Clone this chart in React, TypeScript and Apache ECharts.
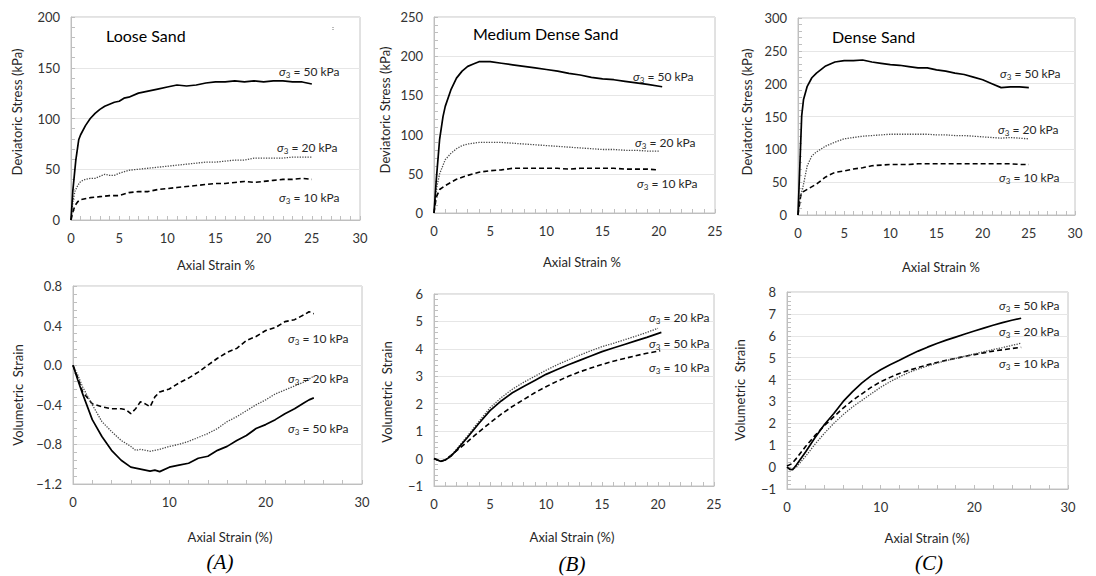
import { useEffect, useRef } from "react";
import * as echarts from "echarts";

// ---------- Data (axial strain %, value) ----------
// Panel A – Loose Sand, deviatoric stress (kPa)
const looseDev50 = [[0,0],[0.2,30],[0.5,59],[0.8,79],[1,84],[1.5,93],[2,100],[2.5,105],[3,109],[3.5,112],[4,114],[4.5,116],[5,117],[5.5,120],[6,121],[7,125],[8,127],[9,129],[10,131],[11,133],[12,132],[13,133],[14,135],[15,136],[16,136],[17,137],[18,136],[19,137],[20,136],[21,137],[22,137],[23,136],[24,136],[25,134]];
const looseDev20 = [[0,0],[0.2,18],[0.4,28],[0.7,34],[1,38],[1.5,40],[2,41],[2.5,41],[3,43],[3.5,45],[4,44],[4.5,44],[5,46],[6,49],[7,50],[8,51],[9,52],[10,53],[11,54],[12,55],[13,56],[14,57],[15,57],[16,58],[17,59],[18,59],[19,61],[20,61],[21,61],[22,61],[23,62],[24,62],[25,62]];
const looseDev10 = [[0,0],[0.2,8],[0.4,14],[0.7,18],[1,20],[2,22],[3,23],[4,24],[5,24],[6,27],[7,28],[8,28],[9,30],[10,31],[11,32],[12,33],[13,34],[14,35],[15,36],[16,36],[17,37],[18,38],[19,37],[20,38],[21,39],[22,40],[23,40],[24,41],[25,40]];

// Panel B – Medium Dense Sand, deviatoric stress (kPa)
const medDev50 = [[0,0],[0.2,42],[0.5,94],[0.8,123],[1,136],[1.5,157],[2,172],[2.5,181],[3,187],[3.5,190],[4,193],[5,193],[6,191],[7,189],[8,187],[9,185],[10,183],[11,181],[12,178],[13,176],[14,173],[15,171],[16,170],[17,168],[18,166],[19,164],[20.3,161]];
const medDev20 = [[0,0],[0.2,30],[0.5,50],[1,68],[1.5,76],[2,82],[2.5,86],[3,88],[4,90],[5,90],[6,90],[7,89],[8,88],[9,87],[10,86],[11,85],[12,84],[13,83],[14,82],[15,81],[16,81],[17,80],[18,80],[19,79],[20,79]];
const medDev10 = [[0,0],[0.2,20],[0.5,30],[1,35],[2,43],[3,48],[4,52],[5,54],[6,55],[7,57],[8,57],[9,57],[10,57],[11,57],[12,56],[13,57],[14,57],[15,57],[16,57],[17,56],[18,56],[19,56],[20,55]];

// Panel C – Dense Sand, deviatoric stress (kPa)
const denseDev50 = [[0,0],[0.2,75],[0.4,151],[0.6,176],[1,196],[1.5,209],[2,216],[3,227],[4,233],[5,235],[6,235],[7,236],[8,233],[9,231],[10,229],[11,228],[12,226],[13,224],[14,224],[15,221],[16,219],[17,216],[18,214],[19,210],[20,206],[21,200],[22,194],[23,195],[24,195],[25,194]];
const denseDev20 = [[0,0],[0.2,25],[0.5,40],[1,75],[1.5,90],[2,96],[3,105],[4,111],[5,116],[6,118],[7,120],[8,121],[9,122],[10,123],[11,123],[12,123],[13,123],[14,123],[15,122],[16,122],[17,121],[18,121],[19,120],[20,119],[21,118],[22,117],[23,118],[24,117],[25,116]];
const denseDev10 = [[0,0],[0.3,30],[0.5,35],[1,39],[2,47],[3,58],[4,65],[5,67],[6,70],[7,72],[8,75],[9,76],[10,77],[11,77],[12,77],[13,78],[14,78],[15,78],[16,78],[17,78],[18,78],[19,78],[20,78],[21,78],[22,78],[23,78],[24,77],[25,77]];

// Panel A – Loose Sand, volumetric strain
const looseVol50 = [[0,0],[0.5,-0.15],[1,-0.29],[2,-0.55],[3,-0.72],[4,-0.86],[5,-0.96],[6,-1.03],[7,-1.05],[8,-1.07],[8.5,-1.06],[9,-1.075],[10,-1.03],[11,-1.01],[12,-0.99],[13,-0.94],[14,-0.92],[15,-0.86],[16,-0.82],[17,-0.76],[18,-0.71],[19,-0.64],[20,-0.6],[21,-0.55],[22,-0.49],[23,-0.44],[24,-0.38],[24.5,-0.35],[25,-0.33]];
const looseVol20 = [[0,0],[0.5,-0.1],[1,-0.22],[2,-0.4],[3,-0.57],[4,-0.67],[5,-0.76],[6,-0.82],[6.5,-0.86],[7,-0.85],[8,-0.87],[9,-0.85],[10,-0.82],[11,-0.8],[12,-0.77],[13,-0.73],[14,-0.69],[15,-0.64],[16,-0.57],[17,-0.52],[18,-0.46],[19,-0.4],[20,-0.35],[21,-0.29],[22,-0.25],[23,-0.21],[24,-0.17],[25,-0.11]];
const looseVol10 = [[0,0],[0.5,-0.13],[1,-0.27],[2,-0.39],[3,-0.42],[4,-0.44],[5,-0.44],[5.5,-0.45],[6,-0.49],[6.5,-0.44],[7,-0.37],[7.5,-0.39],[8,-0.42],[8.5,-0.32],[9,-0.27],[10,-0.24],[11,-0.18],[12,-0.13],[13,-0.07],[14,0],[15,0.07],[16,0.13],[17,0.17],[18,0.25],[19,0.29],[20,0.35],[21,0.38],[22,0.44],[23,0.46],[24,0.51],[24.5,0.54],[25,0.52]];

// Panel B – Medium Dense Sand, volumetric strain
const medVol50 = [[0,0],[0.3,-0.05],[0.6,-0.1],[1,-0.05],[1.5,0.08],[2,0.3],[3,0.78],[4,1.28],[5,1.75],[6,2.1],[7,2.4],[8,2.63],[9,2.85],[10,3.07],[11,3.25],[12,3.42],[13,3.58],[14,3.74],[15,3.9],[16,4.03],[17,4.16],[18,4.29],[19,4.42],[20.3,4.6]];
const medVol20 = [[0,0],[0.3,-0.05],[0.6,-0.1],[1,-0.05],[1.5,0.1],[2,0.33],[3,0.83],[4,1.35],[5,1.85],[6,2.22],[7,2.53],[8,2.78],[9,3.0],[10,3.22],[11,3.42],[12,3.6],[13,3.77],[14,3.93],[15,4.08],[16,4.2],[17,4.33],[18,4.46],[19,4.6],[20,4.75]];
const medVol10 = [[0,0],[0.3,-0.05],[0.6,-0.1],[1,-0.05],[2,0.28],[3,0.62],[4,0.97],[5,1.3],[6,1.62],[7,1.9],[8,2.15],[9,2.4],[10,2.62],[11,2.82],[12,3.0],[13,3.16],[14,3.3],[15,3.43],[16,3.55],[17,3.65],[18,3.75],[19,3.84],[20.2,3.93]];

// Panel C – Dense Sand, volumetric strain
const denseVol50 = [[0,0],[0.3,-0.1],[0.6,-0.12],[1,0.1],[2,0.7],[3,1.35],[4,1.95],[5,2.45],[6,3.0],[7,3.45],[8,3.85],[9,4.18],[10,4.45],[11,4.68],[12,4.88],[13,5.1],[14,5.3],[15,5.48],[16,5.65],[17,5.8],[18,5.94],[19,6.08],[20,6.22],[21,6.35],[22,6.48],[23,6.6],[24,6.71],[25,6.8]];
const denseVol20 = [[0,0],[0.5,-0.1],[1,0],[2,0.5],[3,1.05],[4,1.55],[5,2.0],[6,2.4],[7,2.75],[8,3.05],[9,3.35],[10,3.65],[11,3.9],[12,4.12],[13,4.32],[14,4.48],[15,4.62],[16,4.75],[17,4.86],[18,4.97],[19,5.07],[20,5.17],[21,5.27],[22,5.37],[23,5.46],[24,5.56],[25,5.66]];
const denseVol10 = [[0,0.05],[0.5,0.15],[1,0.4],[2,0.95],[3,1.45],[4,1.9],[5,2.3],[6,2.7],[7,3.05],[8,3.35],[9,3.65],[10,3.9],[11,4.1],[12,4.28],[13,4.42],[14,4.55],[15,4.67],[16,4.78],[17,4.88],[18,4.97],[19,5.06],[20,5.14],[21,5.22],[22,5.3],[23,5.36],[24,5.42],[25,5.47]];

// Axis settings per panel: A-top, B-top, C-top, A-bottom, B-bottom, C-bottom
const xMaxes = [30, 25, 30, 30, 25, 30];
const xIntervals = [5, 5, 5, 10, 5, 10];
const yMins = [0, 0, 0, -1.2, -1, -1];
const yMaxes = [200, 250, 300, 0.8, 6, 8];
const yIntervals = [50, 50, 50, 0.4, 1, 1];
const yDecimals = [0, 0, 0, 1, 0, 0];

const panelTitles = ["Loose Sand", "Medium Dense Sand", "Dense Sand"];
const panelLetters = ["(A)", "(B)", "(C)"];
const pressures = [50, 20, 10];

const panelSeries = [
  [looseDev50, looseDev20, looseDev10],
  [medDev50, medDev20, medDev10],
  [denseDev50, denseDev20, denseDev10],
  [looseVol50, looseVol20, looseVol10],
  [medVol50, medVol20, medVol10],
  [denseVol50, denseVol20, denseVol10],
];

const FONT = 'Lato, "Open Sans", "Liberation Sans", sans-serif';

const grids = [
  { left: 71, top: 17, width: 289, height: 203 },
  { left: 434, top: 17, width: 281, height: 196 },
  { left: 798, top: 18, width: 277, height: 197 },
  { left: 73, top: 286, width: 289, height: 198 },
  { left: 434, top: 294, width: 280, height: 192 },
  { left: 787, top: 292, width: 281, height: 197 },
];

const lineStyles = [
  { color: "#000000", width: 1.7, type: "solid" },
  { color: "#4a4a4a", width: 1.3, type: "dotted" },
  { color: "#000000", width: 1.6, type: [5, 3] },
];

// annotation positions [x, y] per panel for 50, 20, 10 kPa
const annPos = [
  [[279, 71], [277, 147], [279, 197]],
  [[633, 76], [635, 142], [637, 183]],
  [[1000, 73], [998, 129], [999, 177]],
  [[288, 428], [288, 378], [288, 338]],
  [[649, 343], [649, 317], [649, 367]],
  [[999, 305], [999, 331], [999, 363]],
];

function fmt(v: number, dec: number) {
  const r = Math.round(v * 10) / 10;
  const s = Math.abs(r).toFixed(dec);
  return (r < 0 ? "\u2212" : "") + s;
}

export default function App() {
  const ref = useRef<HTMLDivElement>(null);

  useEffect(() => {
    if (!ref.current) return;
    const chart = echarts.init(ref.current, undefined, { renderer: "svg" });

    const tickColor = "#bfbfbf";
    const labelColor = "#333333";
    const xAxes = grids.map((_, i) => ({
      type: "value",
      gridIndex: i,
      min: 0,
      max: xMaxes[i],
      interval: xIntervals[i],
      axisLine: { show: true, onZero: false, lineStyle: { color: tickColor, width: 1 } },
      axisTick: { show: true, inside: true, length: 4, lineStyle: { color: tickColor } },
      minorTick: { show: true, splitNumber: 5, length: 4, lineStyle: { color: tickColor } },
      splitLine: { show: false },
      axisLabel: { color: labelColor, fontSize: 13, fontFamily: FONT, margin: 11 },
    }));
    const yAxes = grids.map((_, i) => ({
      type: "value",
      gridIndex: i,
      min: yMins[i],
      max: yMaxes[i],
      interval: yIntervals[i],
      axisLine: { show: true, onZero: false, lineStyle: { color: tickColor, width: 1 } },
      axisTick: { show: true, inside: true, length: 4, lineStyle: { color: tickColor } },
      minorTick: { show: true, splitNumber: 5, length: 4, lineStyle: { color: tickColor } },
      splitLine: { show: true, lineStyle: { color: "#e6e6e6", width: 1 } },
      axisLabel: {
        color: labelColor,
        fontSize: 13,
        fontFamily: FONT,
        margin: 11,
        formatter: (v: number) => fmt(v, yDecimals[i]),
      },
    }));

    const series: any[] = [];
    panelSeries.forEach((list, i) => {
      list.forEach((data, k) => {
        series.push({
          type: "line",
          name: `σ3 = ${pressures[k]} kPa`,
          xAxisIndex: i,
          yAxisIndex: i,
          data,
          showSymbol: false,
          symbol: "none",
          smooth: false,
          lineStyle: lineStyles[k],
          z: 3 - k,
        });
      });
    });

    const graphic: any[] = [];
    const txt = (x: number, y: number, text: string, size: number, extra: any = {}) => ({
      type: "text",
      x,
      y,
      style: {
        text,
        fontSize: size,
        fontFamily: FONT,
        fill: "#262626",
        align: "center",
        verticalAlign: "middle",
        ...(extra.style || {}),
      },
    });

    // panel titles
    const titlePos = [[106, 35], [473, 33], [832, 36]];
    panelTitles.forEach((t, i) => {
      graphic.push(txt(titlePos[i][0], titlePos[i][1], t, 16, { style: { align: "left", fill: "#000" } }));
    });

    // y-axis titles
    const yTitlePos = [[17, 112], [385, 110], [747, 112], [18, 395], [387, 392], [740, 390]];
    yTitlePos.forEach((p, i) => {
      graphic.push({
        type: "text",
        x: p[0],
        y: p[1],
        rotation: Math.PI / 2,
        style: {
          text: i < 3 ? "Deviatoric Stress (kPa)" : "Volumetric  Strain",
          fontSize: 13,
          fontFamily: FONT,
          fill: "#262626",
          align: "center",
          verticalAlign: "middle",
        },
      });
    });

    // x-axis titles
    const xTitlePos = [[216, 265], [582, 262], [941, 267], [230, 537], [572, 537], [927, 538]];
    xTitlePos.forEach((p, i) => {
      graphic.push(txt(p[0], p[1], i < 3 ? "Axial Strain %" : "Axial Strain (%)", 13));
    });

    // panel letters
    const letterPos = [[220, 562], [572, 564], [929, 563]];
    panelLetters.forEach((t, i) => {
      graphic.push({
        type: "text",
        x: letterPos[i][0],
        y: letterPos[i][1],
        style: {
          text: t,
          fontSize: 21,
          fontStyle: "italic",
          fontFamily: '"Liberation Serif", "DejaVu Serif", serif',
          fill: "#000",
          align: "center",
          verticalAlign: "middle",
        },
      });
    });

    // σ3 annotations
    annPos.forEach((list, i) => {
      list.forEach((p, k) => {
        graphic.push({
          type: "text",
          x: p[0],
          y: p[1],
          z: 10,
          style: {
            text: `{s|σ}{b|3}{t| = ${pressures[k]} kPa}`,
            align: "left",
            verticalAlign: "middle",
            rich: {
              s: { fontSize: 12, fontStyle: "italic", fontFamily: FONT, fill: "#262626" },
              b: { fontSize: 8, fontFamily: FONT, fill: "#262626", padding: [7, 0, 0, 0] },
              t: { fontSize: 12, fontFamily: FONT, fill: "#262626" },
            },
          },
        });
      });
    });

    // small mark near top right of panel A
    graphic.push({
      type: "line",
      shape: { x1: 333, y1: 27, x2: 333, y2: 31 },
      style: { stroke: "#777", lineWidth: 1, lineDash: [1, 1] },
    });

    chart.setOption({
      animation: false,
      backgroundColor: "#ffffff",
      grid: grids.map((g) => ({ ...g, show: true, borderColor: "#c4c4c4", borderWidth: 1, backgroundColor: "transparent" })),
      xAxis: xAxes,
      yAxis: yAxes,
      series,
      graphic,
    });

    return () => chart.dispose();
  }, []);

  return (
    <div
      ref={ref}
      style={{ position: "fixed", left: 0, top: 0, width: 1096, height: 576, background: "#fff" }}
    />
  );
}
